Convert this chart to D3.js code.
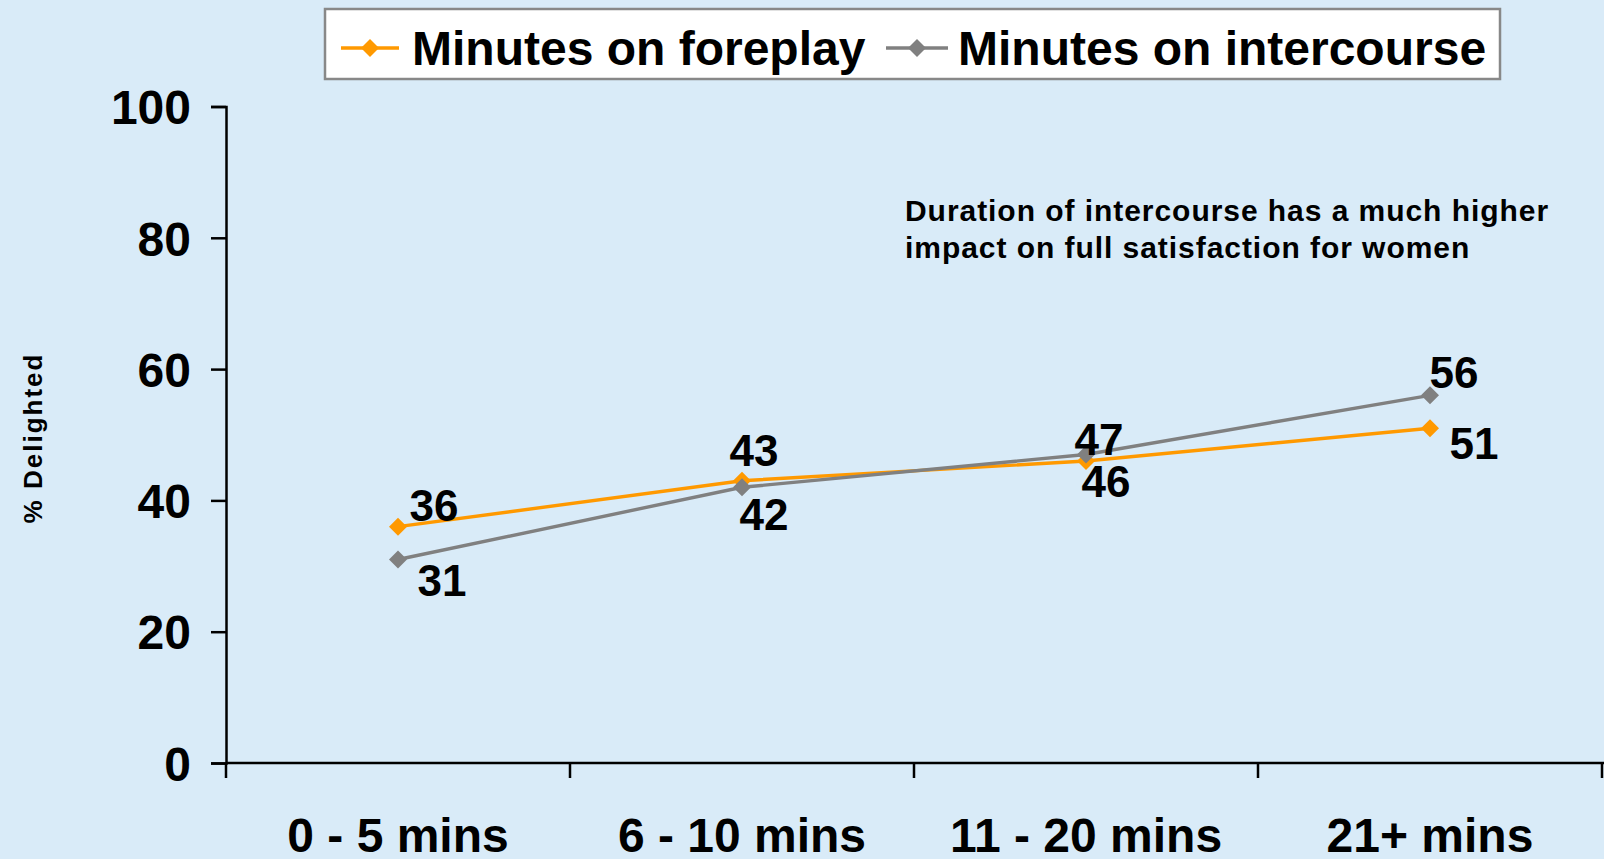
<!DOCTYPE html>
<html>
<head>
<meta charset="utf-8">
<script src="https://cdn.jsdelivr.net/npm/d3@7/dist/d3.min.js"></script>
<style>
  html, body { margin: 0; padding: 0; background: #D9EBF8; }
  svg { display: block; font-family: "Liberation Sans", Arial, sans-serif; }
</style>
</head>
<body>
<svg id="chart" width="1604" height="859"></svg>
<script>
// Duration categories along the x axis
const categories = ["0 - 5 mins", "6 - 10 mins", "11 - 20 mins", "21+ mins"];
// % delighted by minutes spent on each activity
const foreplayValues = [36, 43, 46, 51];
const intercourseValues = [31, 42, 47, 56];
const seriesNames = ["Minutes on foreplay", "Minutes on intercourse"];
const yTicks = [0, 20, 40, 60, 80, 100];
const yTitle = "% Delighted";
const noteLines = ["Duration of intercourse has a much higher", "impact on full satisfaction for women"];

const svg = d3.select("#chart");
const W = 1604, H = 859;

svg.append("rect").attr("width", W).attr("height", H).attr("fill", "#D9EBF8");

const x = d3.scaleBand().domain(categories).range([226, 1602]).padding(0);
const y = d3.scaleLinear().domain([0, 100]).range([763, 106.5]);

const series = [
  { name: seriesNames[0], values: foreplayValues, color: "#FF9900" },
  { name: seriesNames[1], values: intercourseValues, color: "#808080" }
];

// Y axis
const yAxis = svg.append("g")
  .attr("transform", `translate(${x.range()[0]},0)`)
  .call(d3.axisLeft(y).tickValues(yTicks).tickSize(15).tickPadding(20));
yAxis.select(".domain").attr("stroke", "#000").attr("stroke-width", 2.5);
yAxis.selectAll(".tick line").attr("stroke", "#000").attr("stroke-width", 2.5);
yAxis.selectAll(".tick text")
  .attr("fill", "#000").attr("font-size", 48).attr("font-weight", "bold")
  .attr("font-family", "'Liberation Sans', Arial, sans-serif")
  .attr("dy", "0.36em");

// X axis: ticks at band edges, labels at band centres
const xAxisG = svg.append("g").attr("transform", `translate(0,${y(0)})`);
xAxisG.append("line")
  .attr("x1", x.range()[0]).attr("x2", W)
  .attr("stroke", "#000").attr("stroke-width", 2.5);
const edges = categories.map(c => x(c)).concat([x.range()[1]]);
xAxisG.selectAll("line.edge").data(edges).enter().append("line")
  .attr("class", "edge")
  .attr("x1", d => d).attr("x2", d => d)
  .attr("y1", 0).attr("y2", 15)
  .attr("stroke", "#000").attr("stroke-width", 2.5);
xAxisG.selectAll("text").data(categories).enter().append("text")
  .attr("x", d => x(d) + x.bandwidth() / 2)
  .attr("y", 89)
  .attr("text-anchor", "middle")
  .attr("font-size", 48).attr("font-weight", "bold").attr("fill", "#000")
  .text(d => d);

// Y axis title
svg.append("text")
  .attr("transform", "translate(42,438) rotate(-90)")
  .attr("text-anchor", "middle")
  .attr("font-size", 26).attr("font-weight", "bold").attr("letter-spacing", 2)
  .attr("fill", "#000")
  .text(yTitle);

// Annotation
const note = svg.append("text")
  .attr("x", 905).attr("y", 221)
  .attr("font-size", 30).attr("font-weight", "bold").attr("letter-spacing", 0.95)
  .attr("fill", "#000");
note.selectAll("tspan").data(noteLines).enter().append("tspan")
  .attr("x", 905).attr("dy", (d, i) => i === 0 ? 0 : 37)
  .text(d => d);

const cx = c => x(c) + x.bandwidth() / 2;
const line = d3.line().x((d, i) => cx(categories[i])).y(d => y(d));
// Square diamond marker
const diamondPath = r => `M0,${-r}L${r},0L0,${r}L${-r},0Z`;

// Label offsets (dx from point centre, baseline dy) for each series
const labelOffsets = [
  [[36, -6], [12, -15], [20, 36], [44, 31]],
  [[44, 37], [22, 43], [13, 1], [24, -7]]
];

series.forEach((s, si) => {
  svg.append("path")
    .datum(s.values)
    .attr("d", line)
    .attr("fill", "none")
    .attr("stroke", s.color)
    .attr("stroke-width", 3.4);
  svg.selectAll(null).data(s.values).enter().append("path")
    .attr("d", diamondPath(9))
    .attr("transform", (d, i) => `translate(${cx(categories[i])},${y(d)})`)
    .attr("fill", s.color);
});

// Value labels drawn after the lines so they sit on top
series.forEach((s, si) => {
  svg.selectAll(null).data(s.values).enter().append("text")
    .attr("x", (d, i) => cx(categories[i]) + labelOffsets[si][i][0])
    .attr("y", (d, i) => y(d) + labelOffsets[si][i][1])
    .attr("text-anchor", "middle")
    .attr("font-size", 44).attr("font-weight", "bold").attr("fill", "#000")
    .text(d => d);
});

// Legend
const legend = svg.append("g");
legend.append("rect")
  .attr("x", 325).attr("y", 9).attr("width", 1175).attr("height", 70)
  .attr("fill", "#fff").attr("stroke", "#888").attr("stroke-width", 2.5);
const legendItems = [
  { x0: 341, x1: 399, tx: 412 },
  { x0: 886, x1: 948, tx: 958 }
];
series.forEach((s, i) => {
  const it = legendItems[i];
  const g = legend.append("g");
  g.append("line")
    .attr("x1", it.x0).attr("x2", it.x1).attr("y1", 48).attr("y2", 48)
    .attr("stroke", s.color).attr("stroke-width", 3.4);
  g.append("path").attr("d", diamondPath(9))
    .attr("transform", `translate(${(it.x0 + it.x1) / 2},48)`)
    .attr("fill", s.color);
  g.append("text")
    .attr("x", it.tx).attr("y", 65)
    .attr("font-size", 48).attr("font-weight", "bold").attr("fill", "#000")
    .text(s.name);
});
</script>
</body>
</html>
